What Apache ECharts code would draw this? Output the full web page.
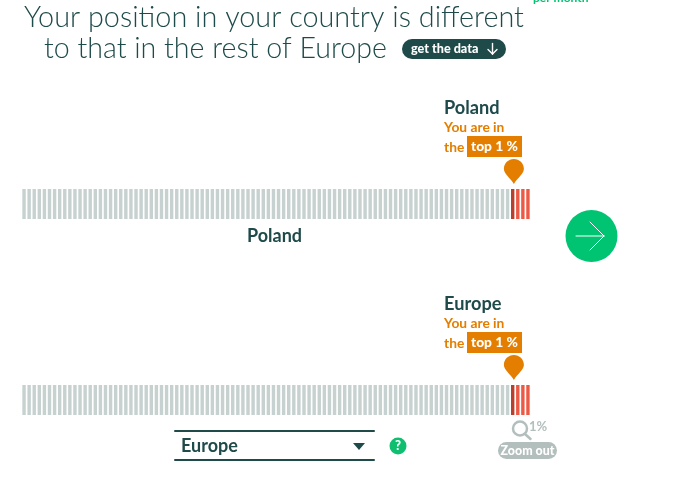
<!DOCTYPE html>
<html>
<head>
<meta charset="utf-8">
<script src="https://cdn.jsdelivr.net/npm/echarts@6/dist/echarts.min.js"></script>
<style>
html, body { margin: 0; padding: 0; background: #fff; }
#chart { width: 674px; height: 496px; }
</style>
</head>
<body>
<div id="chart"></div>
<script>
// one bar per percentile of the income distribution
var percentiles = [
    1, 2, 3, 4, 5, 6, 7, 8, 9, 10, 11, 12, 13, 14, 15, 16, 17, 18, 19, 20,
    21, 22, 23, 24, 25, 26, 27, 28, 29, 30, 31, 32, 33, 34, 35, 36, 37, 38, 39, 40,
    41, 42, 43, 44, 45, 46, 47, 48, 49, 50, 51, 52, 53, 54, 55, 56, 57, 58, 59, 60,
    61, 62, 63, 64, 65, 66, 67, 68, 69, 70, 71, 72, 73, 74, 75, 76, 77, 78, 79, 80,
    81, 82, 83, 84, 85, 86, 87, 88, 89, 90, 91, 92, 93, 94, 95, 96, 97, 98, 99, 100
];
var barValues = [
    1, 1, 1, 1, 1, 1, 1, 1, 1, 1, 1, 1, 1, 1, 1, 1, 1, 1, 1, 1,
    1, 1, 1, 1, 1, 1, 1, 1, 1, 1, 1, 1, 1, 1, 1, 1, 1, 1, 1, 1,
    1, 1, 1, 1, 1, 1, 1, 1, 1, 1, 1, 1, 1, 1, 1, 1, 1, 1, 1, 1,
    1, 1, 1, 1, 1, 1, 1, 1, 1, 1, 1, 1, 1, 1, 1, 1, 1, 1, 1, 1,
    1, 1, 1, 1, 1, 1, 1, 1, 1, 1, 1, 1, 1, 1, 1, 1, 1, 1, 1, 1
];
var redFrom = 97;      // first percentile drawn in red
var userPercentile = 97;
var panelTitles = ['Poland', 'Europe'];

var dark = '#1f4a4a', orange = '#e37e00', green = '#00c472', grey = '#c6d1d0';
var pinPath = 'path://M10 0C4.5 0 0 4.3 0 9.8C0 15 6.5 19 10 25C13.5 19 20 15 20 9.8C20 4.3 15.5 0 10 0Z';

var chart = echarts.init(document.getElementById('chart'));

function txt(x, y, text, size, weight, fill, align) {
    return {
        type: 'text', x: x, y: y, z: 10,
        style: {
            text: text, fontFamily: 'Lato', fontSize: size, fontWeight: weight,
            fill: fill, textAlign: align || 'left', textVerticalAlign: 'middle'
        }
    };
}
function box(x, y, w, h, r, fill) {
    return { type: 'rect', x: x, y: y, z: 5, shape: { x: 0, y: 0, width: w, height: h, r: r }, style: { fill: fill } };
}
function seg(x1, y1, x2, y2, color, width) {
    return {
        type: 'line', z: 10,
        shape: { x1: x1, y1: y1, x2: x2, y2: y2 },
        style: { stroke: color, lineWidth: width, lineCap: 'round' }
    };
}

var graphics = [
    txt(533, -2, 'per month', 12, 700, green),
    txt(24, 18, 'Your position in your country is different', 28.8, 300, dark),
    txt(44, 49, 'to that in the rest of Europe', 28.6, 300, dark),
    box(402, 39, 104, 20, 10, dark),
    txt(411, 48.5, 'get the data', 12.6, 900, '#fff'),
    seg(492.5, 43.5, 492.5, 54, '#fff', 1.4),
    seg(488, 49.5, 492.5, 54, '#fff', 1.4),
    seg(497, 49.5, 492.5, 54, '#fff', 1.4),

    // next arrow
    { type: 'circle', z: 5, shape: { cx: 591.5, cy: 236, r: 26 }, style: { fill: green } },
    seg(576, 236, 604, 236, '#fff', 1),
    seg(590, 222, 604, 236, '#fff', 1),
    seg(590, 250, 604, 236, '#fff', 1),

    txt(247, 236, 'Poland', 18, 700, dark),

    // region selector
    seg(175, 431, 374, 431, dark, 2),
    seg(175, 460, 374, 460, dark, 2),
    txt(181, 446, 'Europe', 18, 700, dark),
    { type: 'polygon', z: 10, shape: { points: [[353, 443], [365, 443], [359, 450]] }, style: { fill: dark } },
    { type: 'circle', z: 5, shape: { cx: 398, cy: 446, r: 8.5 }, style: { fill: '#0fbf6f' } },
    txt(398, 446, '?', 13, 900, '#fff', 'center'),

    // zoom control
    { type: 'circle', z: 5, shape: { cx: 520, cy: 428.5, r: 7 }, style: { fill: 'none', stroke: '#b2bfbd', lineWidth: 2.5 } },
    seg(525, 434, 530.5, 439, '#b2bfbd', 2.5),
    txt(529, 427, '1%', 13, 700, '#b2bfbd'),
    box(498, 442, 59, 17, 8.5, '#b2bfbd'),
    txt(527.5, 450.5, 'Zoom out', 12.4, 900, '#fff', 'center')
];

// the two labels above the pins
[0, 1].forEach(function (i) {
    var dy = i * 196;
    graphics.push(
        txt(444, 108 + dy, panelTitles[i], 18.2, 700, dark),
        txt(444, 127.5 + dy, 'You are in', 13.8, 700, orange),
        txt(444, 147.5 + dy, 'the', 13.8, 700, orange),
        box(467, 136 + dy, 55, 21, 0, orange),
        txt(471, 147 + dy, 'top 1 %', 13.8, 900, '#fff')
    );
});

var grids = [], xAxes = [], yAxes = [], series = [];
[189, 385].forEach(function (top, i) {
    grids.push({ left: 21.5, top: top, width: 509, height: 30 });
    xAxes.push({ type: 'category', gridIndex: i, data: percentiles, show: false });
    yAxes.push({ type: 'value', gridIndex: i, min: 0, max: 1, show: false });
    series.push({
        type: 'bar',
        xAxisIndex: i,
        yAxisIndex: i,
        data: barValues,
        barWidth: 3.4,
        silent: true,
        animation: false,
        itemStyle: {
            color: function (p) {
                var pct = percentiles[p.dataIndex];
                if (pct === redFrom) return '#b8402c';
                return pct > redFrom ? '#ec5a45' : grey;
            }
        },
        markPoint: {
            silent: true,
            animation: false,
            symbol: pinPath,
            symbolSize: [20, 25],
            symbolKeepAspect: false,
            symbolOffset: [1.2, -17.5],
            itemStyle: { color: orange },
            label: { show: false },
            data: [{ coord: [String(userPercentile), 1] }]
        }
    });
});

chart.setOption({
    animation: false,
    grid: grids,
    xAxis: xAxes,
    yAxis: yAxes,
    series: series,
    graphic: graphics
});
</script>
</body>
</html>
